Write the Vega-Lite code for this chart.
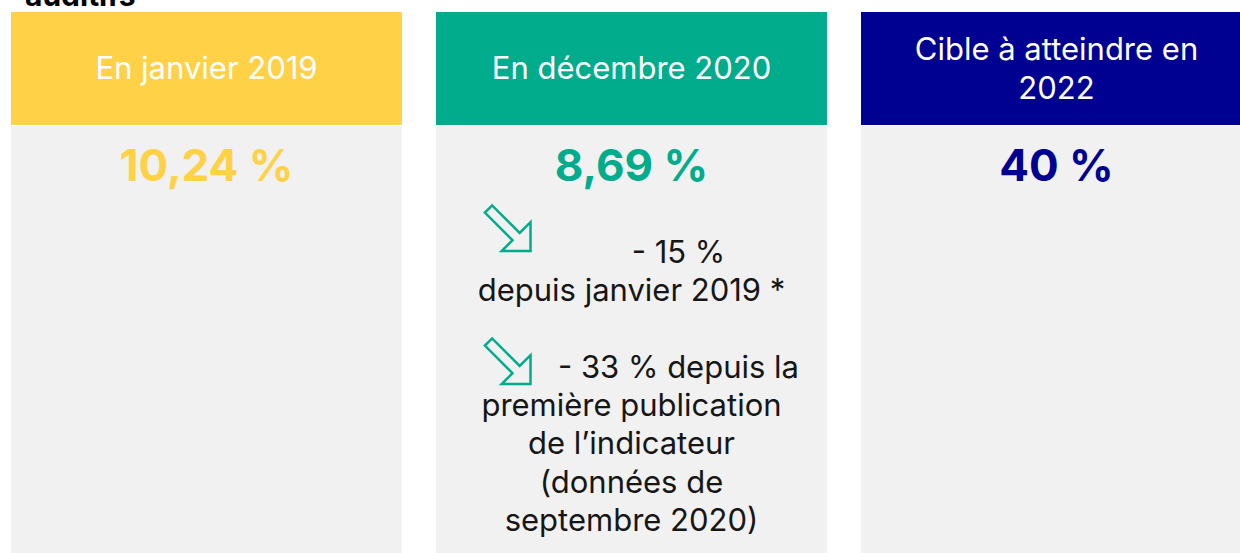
{
  "$schema": "https://vega.github.io/schema/vega-lite/v6.json",
  "width": 1240,
  "height": 553,
  "autosize": "none",
  "padding": 0,
  "background": "#ffffff",
  "view": {"stroke": null},
  "config": {"font": "Inter"},
  "datasets": {
    "panels": [
      {"panel": "janvier", "header": "En janvier 2019", "value": "10,24 %"},
      {"panel": "decembre", "header": "En décembre 2020", "value": "8,69 %"},
      {"panel": "cible", "header": "Cible à atteindre en\n2022", "value": "40 %"}
    ],
    "notes": [
      {"panel": "decembre", "line": 1, "lead": true, "text": "- 15 %"},
      {"panel": "decembre", "line": 2, "lead": false, "text": "depuis janvier 2019 *"},
      {"panel": "decembre", "line": 4, "lead": true, "text": "- 33 % depuis la"},
      {"panel": "decembre", "line": 5, "lead": false, "text": "première publication"},
      {"panel": "decembre", "line": 6, "lead": false, "text": "de l’indicateur"},
      {"panel": "decembre", "line": 7, "lead": false, "text": "(données de"},
      {"panel": "decembre", "line": 8, "lead": false, "text": "septembre 2020)"}
    ],
    "arrows": [
      {"panel": "decembre", "arrow": "depuis janvier 2019"},
      {"panel": "decembre", "arrow": "depuis la première publication"}
    ],
    "title": [{"text": "auditifs"}]
  },
  "resolve": {"scale": {"y": "independent"}},
  "layer": [
    {
      "data": {"name": "panels"},
      "mark": {"type": "rect", "fill": "#f1f1f1"},
      "encoding": {
        "x": {"field": "panel", "type": "nominal", "sort": null,
          "scale": {"domain": ["janvier", "decembre", "cible"], "range": [11, 1252], "paddingInner": 0.08, "paddingOuter": 0}, "axis": null},
        "y": {"value": 126},
        "y2": {"value": 560}
      }
    },
    {
      "data": {"name": "panels"},
      "mark": {"type": "rect"},
      "encoding": {
        "x": {"field": "panel", "type": "nominal", "sort": null, "axis": null},
        "y": {"value": 12},
        "y2": {"value": 125},
        "color": {"field": "panel", "type": "nominal", "legend": null,
          "scale": {"domain": ["janvier", "decembre", "cible"], "range": ["#ffd147", "#00ac8c", "#000091"]}}
      }
    },
    {
      "data": {"name": "panels"},
      "transform": [{"filter": "datum.panel !== 'cible'"}],
      "mark": {"type": "text", "color": "#ffffff", "fontSize": 31, "baseline": "middle", "align": "center"},
      "encoding": {
        "x": {"field": "panel", "type": "nominal", "sort": null, "axis": null},
        "y": {"value": 70},
        "text": {"field": "header"}
      }
    },
    {
      "data": {"name": "panels"},
      "transform": [{"filter": "datum.panel === 'cible'"}],
      "mark": {"type": "text", "color": "#ffffff", "fontSize": 31, "baseline": "middle", "align": "center", "lineBreak": "\n", "lineHeight": 39},
      "encoding": {
        "x": {"field": "panel", "type": "nominal", "sort": null, "axis": null},
        "y": {"value": 51},
        "text": {"field": "header"}
      }
    },
    {
      "data": {"name": "panels"},
      "mark": {"type": "text", "fontSize": 44, "fontWeight": "bold", "baseline": "middle", "align": "center"},
      "encoding": {
        "x": {"field": "panel", "type": "nominal", "sort": null, "axis": null},
        "y": {"value": 168},
        "text": {"field": "value"},
        "color": {"field": "panel", "type": "nominal", "legend": null}
      }
    },
    {
      "data": {"name": "notes"},
      "transform": [{"filter": "!datum.lead"}],
      "mark": {"type": "text", "color": "#161616", "fontSize": 31, "baseline": "middle", "align": "center"},
      "encoding": {
        "x": {"field": "panel", "type": "nominal", "sort": null, "axis": null},
        "y": {"field": "line", "type": "quantitative", "axis": null, "scale": {"domain": [1, 8], "range": [254, 522]}},
        "text": {"field": "text"}
      }
    },
    {
      "data": {"name": "notes"},
      "transform": [{"filter": "datum.lead"}],
      "mark": {"type": "text", "color": "#161616", "fontSize": 31, "baseline": "middle", "align": "center", "xOffset": 47},
      "encoding": {
        "x": {"field": "panel", "type": "nominal", "sort": null, "axis": null},
        "y": {"field": "line", "type": "quantitative", "axis": null, "scale": {"domain": [1, 8], "range": [254, 522]}},
        "text": {"field": "text"}
      }
    },
    {
      "data": {"name": "arrows"},
      "mark": {"type": "point", "filled": false, "stroke": "#00ac8c", "strokeWidth": 2.5, "opacity": 1,
        "shape": "M1,1L-0.2,1L0.25,0.55L-0.9,-0.6L-0.6,-0.9L0.55,0.25L1,-0.2Z", "size": 2304, "xOffset": -125},
      "encoding": {
        "x": {"field": "panel", "type": "nominal", "sort": null, "axis": null},
        "y": {"field": "arrow", "type": "nominal", "sort": null, "axis": null,
          "scale": {"type": "point", "range": [227, 360], "padding": 0}}
      }
    },
    {
      "data": {"name": "title"},
      "mark": {"type": "text", "color": "#000000", "fontSize": 30, "fontWeight": "bold", "baseline": "alphabetic", "align": "left"},
      "encoding": {
        "x": {"value": 25},
        "y": {"value": 6},
        "text": {"field": "text"}
      }
    }
  ]
}
